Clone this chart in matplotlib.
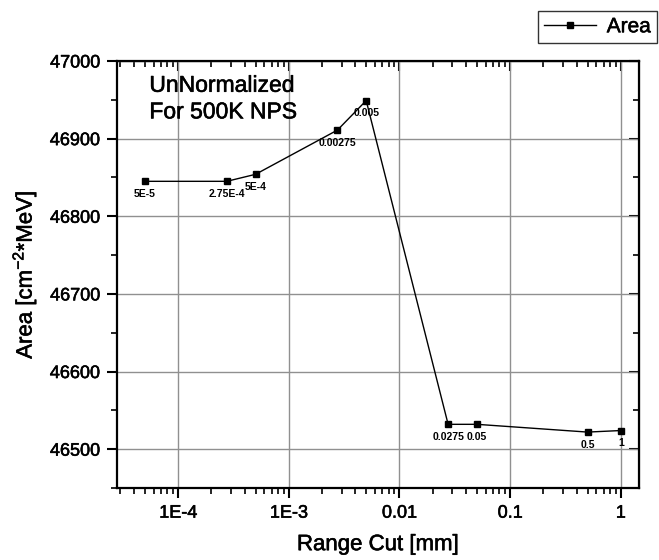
import numpy as np
import matplotlib
matplotlib.use("Agg")
import matplotlib.pyplot as plt
import matplotlib.patheffects as pe
from matplotlib.ticker import LogLocator, FixedLocator, FuncFormatter, NullFormatter, MultipleLocator

plt.rcParams['font.family'] = ['Liberation Sans', 'DejaVu Sans']
plt.rcParams['mathtext.fontset'] = 'custom'
plt.rcParams['mathtext.rm'] = 'Liberation Sans'
plt.rcParams['mathtext.it'] = 'Liberation Sans'

# data
range_cut = [5e-5, 2.75e-4, 5e-4, 0.00275, 0.005, 0.0275, 0.05, 0.5, 1.0]
area = [46845, 46845, 46854, 46911, 46949, 46532, 46532, 46522, 46524]
point_labels = ["5E-5", "2.75E-4", "5E-4", "0.00275", "0.005",
                "0.0275", "0.05", "0.5", "1"]
xtick_vals = [1e-4, 1e-3, 0.01, 0.1, 1]
xtick_text = ["1E-4", "1E-3", "0.01", "0.1", "1"]
ytick_vals = [46500, 46600, 46700, 46800, 46900, 47000]

# slightly heavier text, like the original render
heavy = [pe.withStroke(linewidth=0.5, foreground='black')]

fig = plt.figure(figsize=(6.59, 5.60), dpi=100)
ax = fig.add_axes([0.1775, 0.1286, 0.7922, 0.7625])

ax.plot(range_cut, area, color='black', lw=1.0, marker='s', ms=5,
        label='Area', zorder=3)

for x, y, t in zip(range_cut, area, point_labels):
    ax.annotate(t, (x, y), xytext=(0, -9), textcoords='offset points',
                ha='center', va='center', fontsize=7.5, fontweight='bold')

ax.set_xscale('log')
ax.set_xlim(2.8e-5, 1.46)
ax.set_ylim(46450, 47000)

ax.xaxis.set_major_locator(FixedLocator(xtick_vals))
ax.xaxis.set_major_formatter(FuncFormatter(
    lambda v, p: xtick_text[xtick_vals.index(min(xtick_vals, key=lambda q: abs(np.log10(q) - np.log10(v))))]))
ax.xaxis.set_minor_locator(LogLocator(base=10, subs=np.arange(2, 10), numticks=20))
ax.xaxis.set_minor_formatter(NullFormatter())
ax.yaxis.set_major_locator(FixedLocator(ytick_vals))
ax.yaxis.set_minor_locator(MultipleLocator(50))

ax.grid(True, which='major', color='#909090', lw=1.0)
ax.set_axisbelow(True)

for s in ax.spines.values():
    s.set_linewidth(1.6)

ax.tick_params(which='major', direction='out', length=7, width=1.5, labelsize=13, pad=5)
ax.tick_params(which='minor', direction='out', length=4, width=1.2)

# mirrored ticks pointing inward on top and right
top = ax.secondary_xaxis('top')
top.xaxis.set_major_locator(FixedLocator(xtick_vals))
top.xaxis.set_minor_locator(LogLocator(base=10, subs=np.arange(2, 10), numticks=20))
top.xaxis.set_major_formatter(NullFormatter())
top.xaxis.set_minor_formatter(NullFormatter())
top.tick_params(which='major', direction='in', length=7, width=1.5)
top.tick_params(which='minor', direction='in', length=4, width=1.2)

right = ax.secondary_yaxis('right')
right.yaxis.set_major_locator(FixedLocator(ytick_vals))
right.yaxis.set_minor_locator(MultipleLocator(50))
right.yaxis.set_major_formatter(NullFormatter())
right.tick_params(which='major', direction='in', length=7, width=1.5)
right.tick_params(which='minor', direction='in', length=4, width=1.2)

xl = ax.set_xlabel('Range Cut [mm]', fontsize=16, labelpad=9)
yl = ax.set_ylabel('Area [cm$^{\\mathregular{-2}}$*MeV]', fontsize=16, labelpad=7)

note = ax.text(0.062, 0.97, 'UnNormalized\nFor 500K NPS', transform=ax.transAxes,
               fontsize=16.5, va='top', ha='left', linespacing=1.2)

for lab in ax.get_xticklabels() + ax.get_yticklabels() + [xl, yl, note]:
    lab.set_path_effects([pe.withStroke(linewidth=0.4, foreground='black')])

leg = fig.legend(loc='upper left', bbox_to_anchor=(538 / 659, 1 - 11 / 560),
                 fontsize=15, frameon=True, fancybox=False, borderpad=0.3,
                 handlelength=2.5, handletextpad=0.5, borderaxespad=0)
leg.get_frame().set_edgecolor('black')
leg.get_frame().set_linewidth(1.0)
for t in leg.get_texts():
    t.set_path_effects([pe.withStroke(linewidth=0.4, foreground='black')])

fig.savefig('out.png', dpi=100)
